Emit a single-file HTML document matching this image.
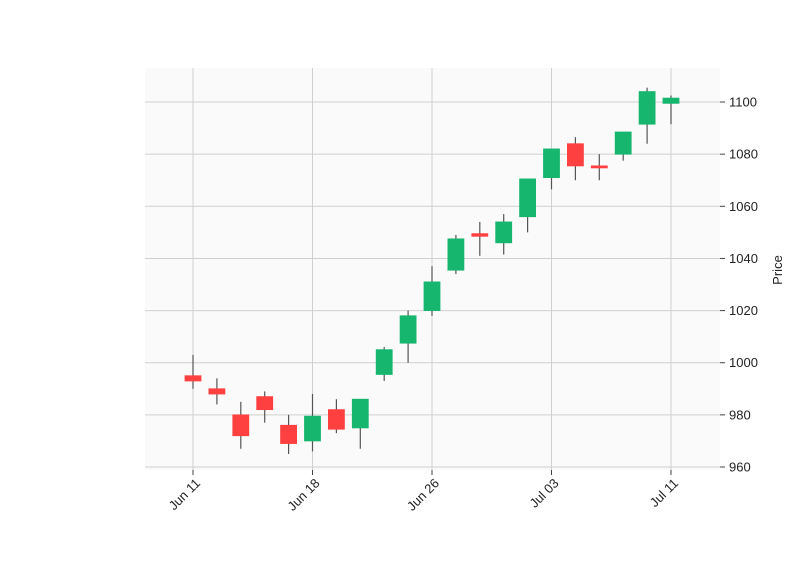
<!DOCTYPE html>
<html><head><meta charset="utf-8"><style>body{margin:0;background:#fff}svg{display:block;font-family:"Liberation Sans","DejaVu Sans",sans-serif}</style></head>
<body>
<svg id="chart" width="800" height="575" xmlns="http://www.w3.org/2000/svg">
<rect x="145" y="68" width="575" height="402" fill="#fafafa"/>
<g id="grid"></g><g id="candles"></g><g id="axes"></g>
<text transform="translate(782,270) rotate(-90)" text-anchor="middle" font-size="13" fill="#222">Price</text>
</svg>
<script>
const opens  = [995,990,980,987,976,970,982,975,995.5,1007.5,1020,1035.5,1049.5,1046,1056,1071,1084,1075.5,1080,1091.5,1099.5];
const closes = [993,988,972,982,969,979.5,974.5,986,1005,1018,1031,1047.5,1048.5,1054,1070.5,1082,1075.5,1075,1088.5,1104,1101.5];
const highs  = [1003,994,985,989,980,988,986,986,1006,1020,1037,1049,1054,1057,1070.5,1082,1086.5,1080,1088.5,1105.5,1102.5];
const lows   = [990,984,967,977,965,966,973,967,993,1000,1018,1034,1041,1041.5,1050,1066.5,1070,1070,1077.5,1084,1091.5];
const yTicks = [960,980,1000,1020,1040,1060,1080,1100];
const xTickIdx = [0,5,10,15,20];
const xTickLabels = ["Jun 11","Jun 18","Jun 26","Jul 03","Jul 11"];
const NS="http://www.w3.org/2000/svg";
function xs(i){return 193+i*23.9;}
function ys(v){return 467-(v-960)*2.607;}
function mk(t,a,p){const e=document.createElementNS(NS,t);for(const k in a)e.setAttribute(k,a[k]);p.appendChild(e);return e;}
const grid=document.getElementById('grid'),cg=document.getElementById('candles'),ax=document.getElementById('axes');
yTicks.forEach(v=>{
  const l=mk('line',{x1:145,x2:720,y1:ys(v),y2:ys(v),stroke:'#d0d0d0','stroke-width':1},grid);
  
  
  const t=mk('line',{x1:720,x2:725,y1:ys(v),y2:ys(v),stroke:'#444'},ax);
  
  
  const tx=mk('text',{x:729,y:ys(v)+4.5,'font-size':13,fill:'#222'},ax);tx.textContent=v;
  
  
});
xTickIdx.forEach((i,k)=>{
  const x=xs(i);
  const l=mk('line',{x1:x,x2:x,y1:68,y2:470,stroke:'#d0d0d0','stroke-width':1},grid);
  
  
  const t=mk('line',{x1:x,x2:x,y1:470,y2:475,stroke:'#444'},ax);
  
  
  const tx=mk('text',{'text-anchor':'end','font-size':13,fill:'#222',transform:`translate(${x+8},484) rotate(-45)`},ax);tx.textContent=xTickLabels[k];
  
  
});
opens.forEach((o,i)=>{
  const c=closes[i],up=c>=o,col=up?'#16b66e':'#ff4040',x=xs(i);
  const w=mk('line',{x1:x,x2:x,y1:ys(highs[i]),y2:ys(lows[i]),stroke:'#555','stroke-width':1.2},cg);
  
  
  const top=ys(Math.max(o,c)),h=Math.max(ys(Math.min(o,c))-top,2);
  const b=mk('rect',{x:x-8,y:top,width:16,height:h,fill:col,stroke:col,'stroke-width':0.8},cg);
  
  
});
</script>
</body></html>
